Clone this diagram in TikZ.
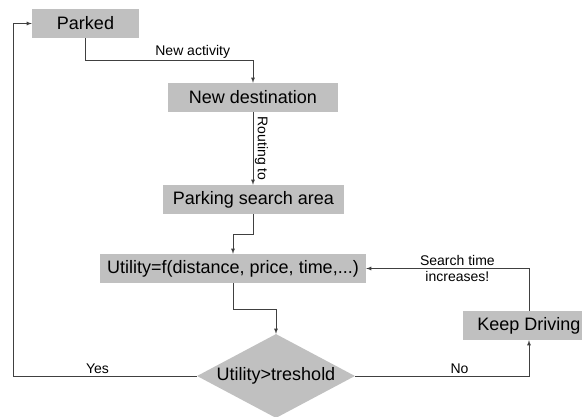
\documentclass[tikz,border=0pt]{standalone}
\usepackage{fontspec}
\setmainfont{Liberation Sans}
\usetikzlibrary{shapes.geometric}
\definecolor{boxGray}{RGB}{192,192,192}
\definecolor{lineGray}{RGB}{64,64,64}

\begin{document}
\begin{tikzpicture}[x = 1pt, y = -1pt, >=latex]
\tikzstyle{stateStyle}=[shape = rectangle, fill = boxGray, inner sep = 0pt,
minimum height = 29pt, font = \fontsize{18}{21}\selectfont]
\tikzstyle{decisionStyle}=[shape = diamond, fill = boxGray, inner sep = 0pt,
aspect = 1.9, minimum width = 158pt, minimum height = 84pt, font = \fontsize{18}{21}\selectfont]
\tikzstyle{flowStyle}=[draw = lineGray, line width = 0.8pt, ->]
\tikzstyle{labelStyle}=[font = \fontsize{14}{16}\selectfont, inner sep = 1.5pt]
\useasboundingbox (0,0) rectangle (582,417);
\node[stateStyle, minimum width = 107pt] (parked) at (85.5, 23.5) {Parked};
\node[stateStyle, minimum width = 170pt] (dest) at (253, 97.5) {New destination};
\node[stateStyle, minimum width = 181pt] (area) at (253.5, 199.5) {Parking search area};
\node[stateStyle, minimum width = 266pt] (util) at (233, 268.5) {Utility=f(distance, price, time,...)};
\node[stateStyle, minimum width = 132pt] (keep) at (529, 325.5) {Keep Driving};
\node[decisionStyle] (check) at (276, 376) {Utility>treshold};
\coordinate (yesCorner) at (13, 376);
\draw[flowStyle] (parked.south) -- ++(0,22)
  -| node[labelStyle, above, pos = 0.32] {New activity} (dest.north);
\draw[flowStyle] (dest.south) -- node[labelStyle, rotate = -90, anchor = south] {Routing to} (dest.south |- area.north);
\draw[flowStyle] (area.south) -- ++(0,20) -| (util.north);
\draw[flowStyle] (util.south) -- ++(0,26) -| (check.north);
\draw[flowStyle] (check.west) -- node[labelStyle, above, pos = 0.54] {Yes} (yesCorner) |- (parked.west);
\draw[flowStyle] (check.east) -| node[labelStyle, above, pos = 0.3] {No} (keep.south);
\draw[flowStyle] (keep.north) |- node[labelStyle, align = center, pos = 0.72] {Search time\\increases!} (util.east);
\end{tikzpicture}
\end{document}
